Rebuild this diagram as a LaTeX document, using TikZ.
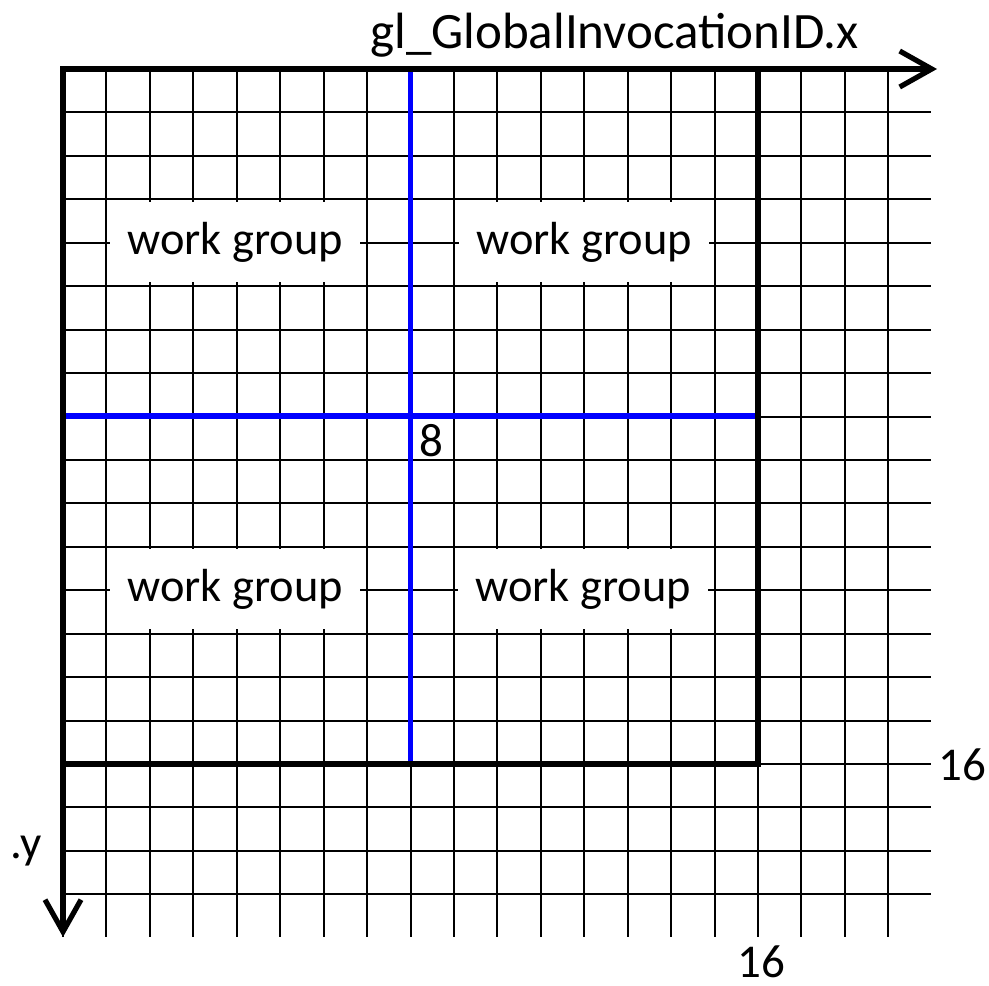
\documentclass[tikz,border=0pt]{standalone}
\usepackage{fontspec}
\setmainfont{Carlito}
\usetikzlibrary{arrows.meta}
\begin{document}
\begin{tikzpicture}[x=0.5pt,y=-0.5pt,
  gridline/.style={line width=1pt,black},
  frame/.style={line width=2.6pt,black},
  axis/.style={line width=2.6pt,black,-{Straight Barb[length=16pt,width=18pt,line width=2.6pt]}},
  divider/.style={line width=2.6pt,blue},
  wg/.style={fill=white,inner sep=0pt,minimum width=125pt,minimum height=40pt,font=\fontsize{23.2}{25}\selectfont},
  lbl/.style={inner sep=0pt,font=\fontsize{23.5}{25}\selectfont}]
\useasboundingbox (0,0) rectangle (989,985);
\def\c{43.44}
% grid
\foreach \i in {0,...,19}{
  \draw[gridline] ({63+\c*\i},69) -- ({63+\c*\i},937);
  \draw[gridline] (63,{69+\c*\i}) -- (931,{69+\c*\i});
}
% blue dividers
\coordinate (vt) at (410.5,69);
\coordinate (vb) at (410.5,764);
\coordinate (hl) at (63,416);
\coordinate (hr) at (758,416);
\draw[divider] (vt) -- (vb);
\draw[divider] (hl) -- (hr);
% work group labels
\node[wg] (wg1) at (235,242) {work group};
\node[wg] (wg2) at (584,242) {work group};
\node[wg] (wg3) at (235,589) {work group};
\node[wg] (wg4) at (583,589) {work group};
% frame
\coordinate (o) at (63,69);
\coordinate (br) at (758,764);
\draw[frame] (o) rectangle (br);
% axes
\coordinate (xend) at (937,69);
\coordinate (yend) at (63,937);
\draw[axis] (o) -- (xend);
\draw[axis] (o) -- (yend);
% labels
\node[inner sep=0pt,anchor=base,font=\fontsize{25.5}{27}\selectfont] (xl) at (614.5,48) {gl\_GlobalInvocationID.x};
\node[lbl] (yl) at (26,851) {.y};
\node[lbl] (eight) at (431,441) {8};
\node[lbl] (r16) at (962,765) {16};
\node[lbl] (b16) at (761,962) {16};
\end{tikzpicture}
\end{document}
